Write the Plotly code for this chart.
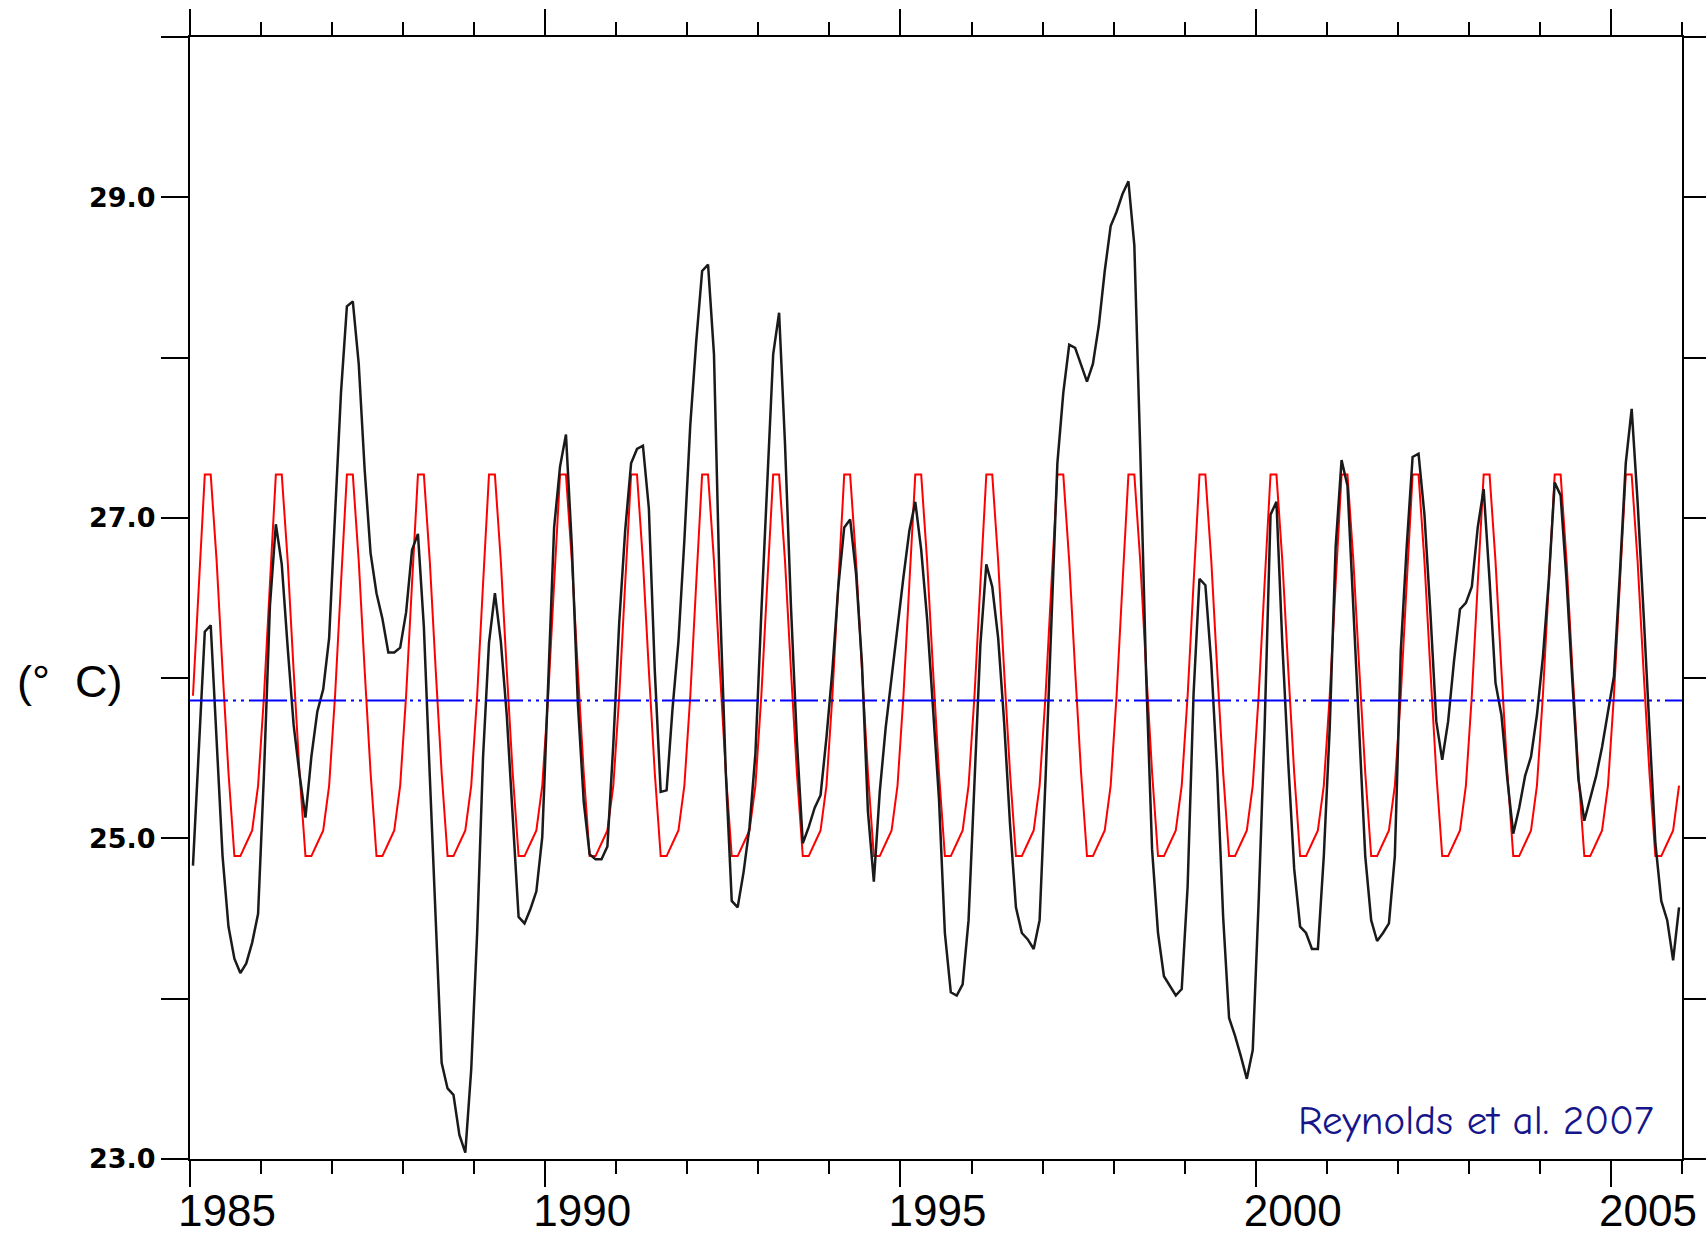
import plotly.graph_objects as go

# ---- data (monthly SST, deg C) ----
years = list(range(1985, 2006))
sst_1985 = [24.83, 25.60, 26.29, 26.33, 25.61, 24.89, 24.45, 24.25, 24.16, 24.22, 24.35, 24.53]
sst_1986 = [25.41, 26.45, 26.96, 26.71, 26.19, 25.71, 25.40, 25.13, 25.51, 25.79, 25.93, 26.25]
sst_1987 = [27.02, 27.78, 28.32, 28.35, 27.96, 27.30, 26.78, 26.53, 26.37, 26.16, 26.16, 26.19]
sst_1988 = [26.41, 26.80, 26.90, 26.32, 25.39, 24.47, 23.60, 23.44, 23.40, 23.15, 23.04, 23.56]
sst_1989 = [24.41, 25.51, 26.22, 26.53, 26.23, 25.77, 25.13, 24.51, 24.47, 24.56, 24.67, 25.01]
sst_1990 = [25.97, 26.94, 27.32, 27.52, 26.82, 25.85, 25.23, 24.90, 24.87, 24.87, 24.95, 25.59]
sst_1991 = [26.35, 26.92, 27.34, 27.43, 27.45, 27.06, 26.05, 25.29, 25.30, 25.81, 26.23, 26.86]
sst_1992 = [27.58, 28.10, 28.54, 28.58, 28.02, 26.49, 25.41, 24.61, 24.57, 24.79, 25.07, 25.53]
sst_1993 = [26.41, 27.26, 28.02, 28.28, 27.46, 26.45, 25.61, 24.97, 25.07, 25.19, 25.27, 25.63]
sst_1994 = [26.05, 26.57, 26.94, 26.99, 26.65, 26.09, 25.17, 24.73, 25.29, 25.69, 26.01, 26.33]
sst_1995 = [26.63, 26.92, 27.10, 26.80, 26.37, 25.81, 25.25, 24.41, 24.04, 24.02, 24.09, 24.49]
sst_1996 = [25.37, 26.21, 26.71, 26.57, 26.25, 25.73, 25.09, 24.57, 24.41, 24.37, 24.31, 24.49]
sst_1997 = [25.37, 26.41, 27.34, 27.78, 28.08, 28.06, 27.95, 27.85, 27.96, 28.20, 28.54, 28.82]
sst_1998 = [28.91, 29.02, 29.10, 28.70, 27.42, 26.01, 24.93, 24.41, 24.14, 24.08, 24.02, 24.06]
sst_1999 = [24.70, 25.90, 26.62, 26.58, 26.09, 25.41, 24.51, 23.88, 23.77, 23.64, 23.50, 23.68]
sst_2000 = [24.61, 25.69, 27.02, 27.10, 26.21, 25.47, 24.81, 24.45, 24.41, 24.31, 24.31, 24.89]
sst_2001 = [25.69, 26.82, 27.36, 27.20, 26.41, 25.65, 24.89, 24.49, 24.36, 24.41, 24.47, 24.89]
sst_2002 = [26.17, 26.82, 27.38, 27.40, 27.02, 26.41, 25.73, 25.49, 25.73, 26.11, 26.43, 26.47]
sst_2003 = [26.57, 26.94, 27.18, 26.61, 25.97, 25.77, 25.37, 25.03, 25.19, 25.39, 25.51, 25.77]
sst_2004 = [26.13, 26.61, 27.22, 27.14, 26.61, 25.97, 25.37, 25.11, 25.25, 25.39, 25.57, 25.79]
sst_2005 = [26.01, 26.65, 27.34, 27.68, 27.10, 26.41, 25.69, 24.97, 24.61, 24.49, 24.24, 24.57]

# monthly climatology (Jan..Dec) and long-term mean
climatology = [25.89, 26.59, 27.27, 27.27, 26.73, 26.05, 25.41, 24.89, 24.89, 24.97, 25.05, 25.33]
mean_sst = 25.86

x_ticks = [1985, 1990, 1995, 2000, 2005]
x_ticktext = ["1985", "1990", "1995", "2000", "2005"]
y_ticks = [23, 24, 25, 26, 27, 28, 29, 30]
y_ticktext = ["23.0", "", "25.0", "", "27.0", "", "29.0", ""]

# ---- assemble series ----
sst = (sst_1985 + sst_1986 + sst_1987 + sst_1988 + sst_1989 + sst_1990 + sst_1991
       + sst_1992 + sst_1993 + sst_1994 + sst_1995 + sst_1996 + sst_1997 + sst_1998
       + sst_1999 + sst_2000 + sst_2001 + sst_2002 + sst_2003 + sst_2004 + sst_2005)
t = [y + (m + 0.5) / 12.0 for y in years for m in range(12)]
clim_series = climatology * len(years)

fig = go.Figure()
fig.add_trace(go.Scatter(x=t, y=clim_series, mode="lines",
                         line=dict(color="#ff0000", width=2), hoverinfo="skip"))
fig.add_trace(go.Scatter(x=t, y=sst, mode="lines",
                         line=dict(color="#1a1a1a", width=2.5)))
fig.add_trace(go.Scatter(x=[years[0], years[-1] + 1], y=[mean_sst, mean_sst], mode="lines",
                         line=dict(color="#0000ff", width=2,
                                   dash="38px,5px,3px,5px,3px,5px")))

axis_common = dict(showline=True, linecolor="black", linewidth=2, mirror="ticks",
                   ticks="outside", tickcolor="black", tickwidth=2,
                   showgrid=False, zeroline=False, automargin=False)

fig.update_xaxes(range=[1985, 2006], tickvals=x_ticks, ticktext=x_ticktext,
                 ticklen=26, ticklabelshift=37, ticklabelstandoff=-14,
                 tickfont=dict(family="Liberation Sans, Arial, sans-serif", size=44, color="black"),
                 minor=dict(tick0=1985, dtick=1, ticks="outside", ticklen=13,
                            tickwidth=2, tickcolor="black"),
                 **axis_common)
fig.update_yaxes(range=[23, 30], tickvals=y_ticks, ticktext=y_ticktext, ticklen=27,
                 tickfont=dict(family="DejaVu Sans, sans-serif", size=27, color="black",
                               weight="bold"),
                 **axis_common)

fig.add_annotation(text="(°  C)", xref="paper", yref="paper", x=-0.081, y=0.426,
                   xanchor="center", yanchor="middle", showarrow=False,
                   font=dict(family="Liberation Sans, Arial, sans-serif", size=45, color="black"))
fig.add_annotation(text="Reynolds et al. 2007", xref="paper", yref="paper",
                   x=0.982, y=0.012, xanchor="right", yanchor="bottom", showarrow=False,
                   font=dict(family="Comic Sans MS, Comic Neue, Lato, sans-serif", size=41,
                             color="#16168a"))

fig.update_layout(width=1706, height=1239, showlegend=False,
                  plot_bgcolor="white", paper_bgcolor="white",
                  margin=dict(l=190, r=24, t=37, b=80))

fig.write_html("out.html")
